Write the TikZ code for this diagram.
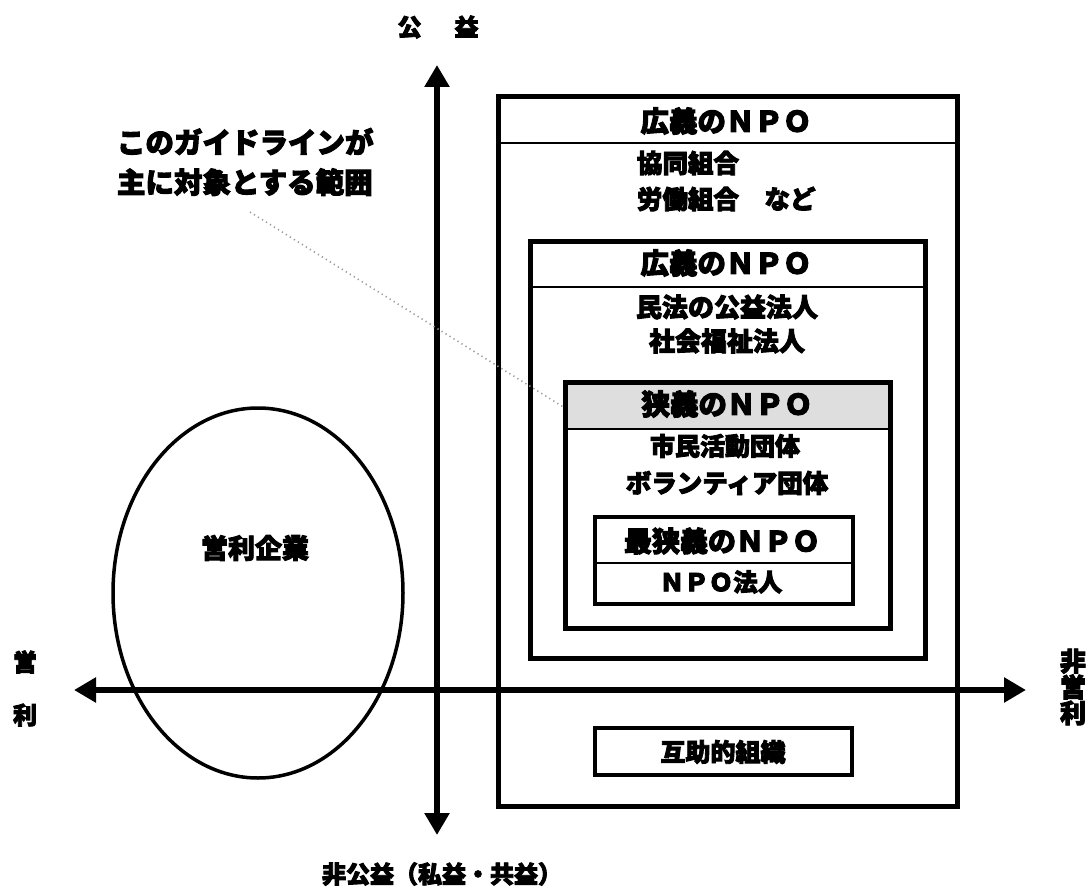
\documentclass[tikz,border=0pt]{standalone}
\usepackage{fontspec}
\setmainfont{Noto Sans CJK JP}[BoldFeatures={FakeBold=3.5}]
\usetikzlibrary{arrows.meta,shapes.geometric}
\newcommand\fsz[1]{\fontsize{#1}{#1}\selectfont}
\begin{document}
\begin{tikzpicture}[x=1pt,y=-1pt,
  txt/.style={inner sep=0pt, outer sep=0pt, font=\bfseries\fsz{25.5pt}},
  ttl/.style={inner sep=0pt, outer sep=0pt, font=\bfseries\fsz{28.5pt}},
  box/.style={draw, line width=5pt, inner sep=0pt, outer sep=0pt},
  divider/.style={line width=2pt},
  axis/.style={line width=6.5pt, {Triangle[length=22pt,width=24pt]}-{Triangle[length=22pt,width=24pt]}},
  leader/.style={draw=black!40, line width=1.6pt, dash pattern=on 1.2pt off 3.5pt}]
\useasboundingbox (0,0) rectangle (1090,888);

% nested boxes
\node[box, minimum width=459pt, minimum height=709pt] (outer) at (727.5,451.5) {};
\draw[divider] ([yshift=-46pt]outer.north west) -- ([yshift=-46pt]outer.north east);

\node[box, minimum width=395pt, minimum height=417pt] (broad) at (727.5,449.5) {};
\draw[divider] ([yshift=-46pt]broad.north west) -- ([yshift=-46pt]broad.north east);

\node[box, minimum width=325pt, minimum height=246pt,
  path picture={\fill[black!13] (path picture bounding box.north west) rectangle ([yshift=-47pt]path picture bounding box.north east);}] (nar) at (727.5,505) {};
\draw[divider] ([yshift=-47pt]nar.north west) -- ([yshift=-47pt]nar.north east);

\node[box, line width=4.5pt, minimum width=258pt, minimum height=87pt] (nst) at (724,560.5) {};
\draw[divider] ([yshift=-46pt]nst.north west) -- ([yshift=-46pt]nst.north east);

\node[box, line width=4.5pt, minimum width=257pt, minimum height=47pt] (mut) at (723.5,751.5) {};

% box texts
\node[ttl] (t1) at (726,121) {広義のＮＰＯ};
\node[txt, anchor=west] (coop) at (637,163) {協同組合};
\node[txt, anchor=west] (labor) at (637,199) {労働組合　など};
\node[ttl] (t2) at (726,263) {広義のＮＰＯ};
\node[txt, font=\bfseries\fsz{26pt}] (civil) at (727,307) {民法の公益法人};
\node[txt, font=\bfseries\fsz{26pt}] (welfare) at (727,341) {社会福祉法人};
\node[ttl] (t3) at (727,404) {狭義のＮＰＯ};
\node[txt, font=\bfseries\fsz{25pt}] (citizen) at (725,446) {市民活動団体};
\node[txt] (vol) at (727,483) {ボランティア団体};
\node[ttl, font=\bfseries\fsz{28pt}] (t4) at (722,541) {最狭義のＮＰＯ};
\node[txt, font=\bfseries\fsz{24.5pt}] (npoc) at (721,582) {ＮＰＯ法人};
\node[txt, font=\bfseries\fsz{25pt}] (mutt) at (723,752) {互助的組織};

% for-profit ellipse
\node[draw, ellipse, line width=3.5pt, minimum width=290pt, minimum height=370pt, inner sep=0pt] (corp) at (258,593) {};
\node[txt, font=\bfseries\fsz{27pt}] (corpt) at (255,548) {営利企業};

% axes
\coordinate (ytop) at (437,65);
\coordinate (ybot) at (437,835);
\coordinate (xl) at (74,690);
\coordinate (xr) at (1026,690);
\draw[axis] (xl) -- (xr);
\draw[axis] (ybot) -- (ytop);

% axis labels
\node[txt, font=\bfseries\fsz{24pt}] (pub) at (438,27) {公\hspace{33pt}益};
\node[txt, font=\bfseries\fsz{24pt}] (ei) at (25,662) {営};
\node[txt, font=\bfseries\fsz{24pt}] (ri) at (25,715) {利};
\node[txt, align=center, font=\bfseries\fsz{26pt}] (npr) at (1073,687) {非\\営\\利};
\node[txt, font=\bfseries\fsz{24pt}] (npub) at (442,874) {非公益（私益・共益）};

% guideline note
\node[txt, anchor=west, align=left, font=\bfseries\fontsize{28.5pt}{40pt}\selectfont] (guide) at (117,162) {このガイドラインが\\主に対象とする範囲};
\coordinate (gs) at (250,212);
\draw[leader] (gs) -- ([yshift=-26pt]nar.north west);
\end{tikzpicture}
\end{document}
